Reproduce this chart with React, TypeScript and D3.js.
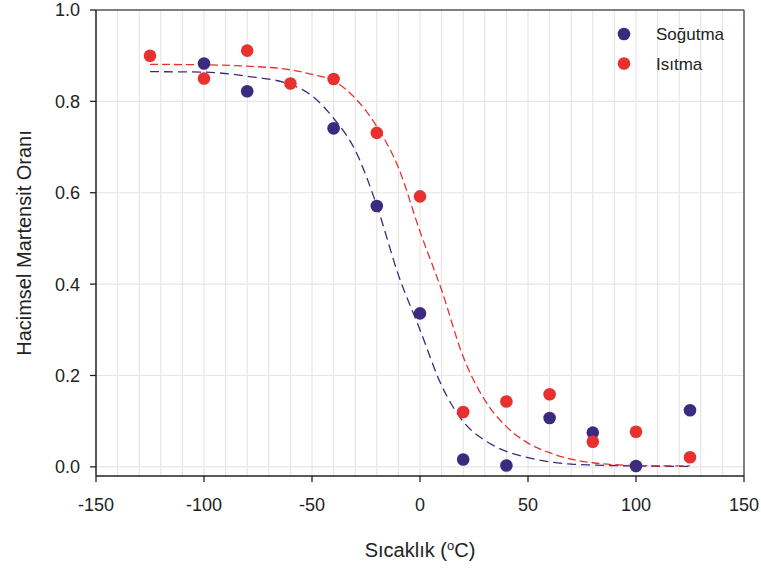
import React from "react";
import * as d3 from "d3";

const coolingTemps = [-100, -80, -40, -20, 0, 20, 40, 60, 80, 100, 125];
const coolingValues = [0.883, 0.822, 0.741, 0.571, 0.336, 0.016, 0.003, 0.107, 0.075, 0.002, 0.124];

const heatingTemps = [-125, -100, -80, -60, -40, -20, 0, 20, 40, 60, 80, 100, 125];
const heatingValues = [0.9, 0.85, 0.911, 0.839, 0.849, 0.731, 0.592, 0.12, 0.143, 0.159, 0.055, 0.077, 0.021];

// fitted curves
const fitTemps = [-125, -100, -80, -60, -50, -40, -30, -20, -10, 0, 10, 20, 30, 40, 50, 60, 70, 80, 100, 125];
const coolingFit = [0.865, 0.864, 0.855, 0.837, 0.812, 0.763, 0.693, 0.572, 0.42, 0.3, 0.178, 0.099, 0.058, 0.034, 0.02, 0.011, 0.006, 0.004, 0.002, 0.001];
const heatingFit = [0.881, 0.88, 0.877, 0.869, 0.859, 0.845, 0.807, 0.745, 0.655, 0.515, 0.387, 0.241, 0.146, 0.088, 0.052, 0.031, 0.017, 0.009, 0.003, 0.002];

const xTicks = [-150, -100, -50, 0, 50, 100, 150];
const xMinor = d3.range(-140, 150, 10);
const yTicks = [0, 0.2, 0.4, 0.6, 0.8, 1.0];

const seriesNames = ["Soğutma", "Isıtma"];
const BLUE = "#3c2a80";
const RED = "#e8312f";

const width = 761;
const height = 569;
const margin = { top: 10, right: 17, bottom: 93, left: 96 };
const font = "'Liberation Sans', Arial, sans-serif";

export default function App() {
  const x = d3.scaleLinear().domain([-150, 150]).range([margin.left, width - margin.right]);
  const y = d3.scaleLinear().domain([-0.02, 1.0]).range([height - margin.bottom, margin.top]);

  const line = d3
    .line<number>()
    .x((_, i) => x(fitTemps[i]))
    .y((d) => y(d))
    .curve(d3.curveMonotoneX);

  const left = margin.left;
  const right = width - margin.right;
  const top = margin.top;
  const bottom = height - margin.bottom;

  return (
    <svg
      width={width}
      height={height}
      style={{ position: "absolute", left: 0, top: 0, background: "#fff" }}
      fontFamily={font}
    >
      {/* grid */}
      {xMinor.map((t) => (
        <line key={"gx" + t} x1={x(t)} x2={x(t)} y1={top} y2={bottom} stroke="#e2e2e2" strokeWidth={1} />
      ))}
      {yTicks.slice(0, -1).map((t) => (
        <line key={"gy" + t} x1={left} x2={right} y1={y(t)} y2={y(t)} stroke="#e6e6e6" strokeWidth={1.2} />
      ))}

      {/* frame */}
      <line x1={left} x2={right} y1={top} y2={top} stroke="#555" strokeWidth={1.5} />
      <line x1={right} x2={right} y1={top} y2={bottom} stroke="#555" strokeWidth={1.5} />
      <line x1={left} x2={left} y1={top} y2={bottom} stroke="#222" strokeWidth={1.5} />
      <line x1={left} x2={right} y1={bottom} y2={bottom} stroke="#222" strokeWidth={1.5} />

      {/* y axis */}
      {yTicks.map((t) => (
        <g key={"yt" + t}>
          <line x1={left - 6} x2={left} y1={y(t)} y2={y(t)} stroke="#222" strokeWidth={1.3} />
          <text x={left - 16} y={y(t)} dy="0.36em" textAnchor="end" fontSize={18} fill="#222">
            {t.toFixed(1)}
          </text>
        </g>
      ))}

      {/* x axis */}
      {xTicks.map((t) => (
        <g key={"xt" + t}>
          <line x1={x(t)} x2={x(t)} y1={bottom} y2={bottom + 6} stroke="#222" strokeWidth={1.3} />
          <text x={x(t)} y={bottom + 35} textAnchor="middle" fontSize={18} fill="#222">
            {t}
          </text>
        </g>
      ))}

      {/* fit curves */}
      <path d={line(coolingFit) ?? ""} fill="none" stroke={BLUE} strokeWidth={1.3} strokeDasharray="9,5" />
      <path d={line(heatingFit) ?? ""} fill="none" stroke={RED} strokeWidth={1.3} strokeDasharray="8,4" />

      {/* points */}
      {coolingTemps.map((t, i) => (
        <circle key={"c" + t} cx={x(t)} cy={y(coolingValues[i])} r={6.3} fill={BLUE} />
      ))}
      {heatingTemps.map((t, i) => (
        <circle key={"h" + t} cx={x(t)} cy={y(heatingValues[i])} r={6.3} fill={RED} />
      ))}

      {/* legend */}
      {seriesNames.map((name, i) => (
        <g key={name}>
          <circle cx={624} cy={34 + i * 29.5} r={6.3} fill={i === 0 ? BLUE : RED} />
          <text x={656} y={34 + i * 29.5} dy="0.36em" fontSize={17} fill="#222">
            {name}
          </text>
        </g>
      ))}

      {/* axis titles */}
      <text
        transform={`translate(${31},${(top + bottom) / 2}) rotate(-90)`}
        textAnchor="middle"
        fontSize={20}
        fill="#222"
      >
        Hacimsel Martensit Oranı
      </text>
      <text x={(left + right) / 2} y={557} textAnchor="middle" fontSize={20} fill="#222">
        Sıcaklık (<tspan dy={-7} fontSize={13}>o</tspan>
        <tspan dy={7}>C)</tspan>
      </text>
    </svg>
  );
}
